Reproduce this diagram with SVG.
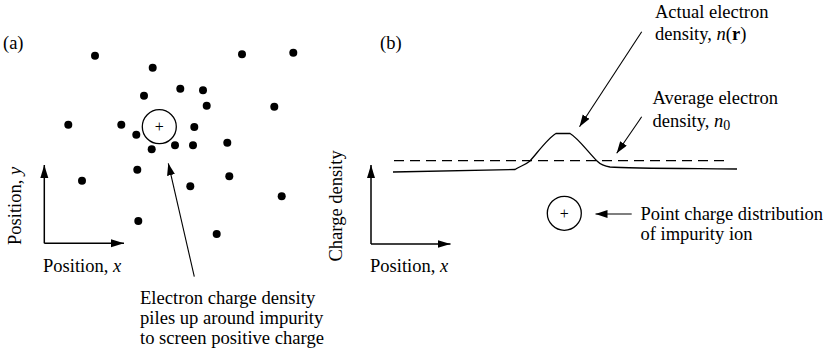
<svg xmlns="http://www.w3.org/2000/svg" width="828" height="351" viewBox="0 0 828 351">
<style>
text{font-family:"Liberation Serif","Times New Roman",serif;font-size:18.5px;fill:#000}
.i{font-style:italic}
.b{font-weight:bold}
.big{font-size:18.6px}
.axis{stroke:#000;stroke-width:1.5;fill:none}
.lead{stroke:#000;stroke-width:1.1;fill:none}
.ion{stroke:#000;stroke-width:1.3;fill:#fff}
.plus{font-size:16px;text-anchor:middle}
.e{fill:#000}
</style>
<defs>
<marker id="ah" markerUnits="userSpaceOnUse" markerWidth="14" markerHeight="9" refX="13" refY="4.5" orient="auto"><path d="M0,0.5 L13,4.5 L0,8.5 Z" fill="#000"/></marker>
<marker id="ahs" markerUnits="userSpaceOnUse" markerWidth="13" markerHeight="9" refX="12" refY="4" orient="auto"><path d="M0,0 L12,4 L0,8 Z" fill="#000"/></marker>
</defs>
<g id="panel-a-label"><text x="3" y="49">(a)</text></g>
<g id="panel-b-label"><text x="380" y="49">(b)</text></g>
<g id="electrons">
<circle class="e" cx="95" cy="55.7" r="4"/>
<circle class="e" cx="152.7" cy="67.7" r="4"/>
<circle class="e" cx="242" cy="54.3" r="4"/>
<circle class="e" cx="293.3" cy="52.7" r="4"/>
<circle class="e" cx="144" cy="95.7" r="4"/>
<circle class="e" cx="180.3" cy="88.7" r="4"/>
<circle class="e" cx="203" cy="90.3" r="4"/>
<circle class="e" cx="206.7" cy="105.7" r="4"/>
<circle class="e" cx="274.3" cy="106.7" r="4"/>
<circle class="e" cx="68.3" cy="124.7" r="4"/>
<circle class="e" cx="121.3" cy="124.7" r="4"/>
<circle class="e" cx="136.3" cy="134.7" r="4"/>
<circle class="e" cx="194.3" cy="127" r="4"/>
<circle class="e" cx="151.7" cy="149.3" r="4"/>
<circle class="e" cx="175" cy="145.3" r="4"/>
<circle class="e" cx="193" cy="145.3" r="4"/>
<circle class="e" cx="227.3" cy="142.7" r="4"/>
<circle class="e" cx="137.3" cy="169.7" r="4"/>
<circle class="e" cx="82" cy="180.7" r="4"/>
<circle class="e" cx="229.3" cy="176.3" r="4"/>
<circle class="e" cx="190.3" cy="186.3" r="4"/>
<circle class="e" cx="281.7" cy="196.3" r="4"/>
<circle class="e" cx="138.3" cy="221" r="4"/>
<circle class="e" cx="216.7" cy="234" r="4"/>
</g>
<g id="impurity-a">
<circle class="ion" cx="159.3" cy="126.7" r="17"/>
<text class="plus" x="159.3" y="132">+</text>
</g>
<g id="impurity-b">
<circle class="ion" cx="564.3" cy="213.3" r="17"/>
<text class="plus" x="564.3" y="219">+</text>
</g>
<g id="axes-a">
<path class="axis" d="M44.3,243.3 L44.3,165" marker-end="url(#ah)"/>
<path class="axis" d="M44.3,243.3 L124,243.3" marker-end="url(#ah)"/>
<text transform="translate(21,245) rotate(-90)">Position, <tspan class="i">y</tspan></text>
<text x="43" y="272">Position, <tspan class="i">x</tspan></text>
</g>
<g id="axes-b">
<path class="axis" d="M371,244 L371,165" marker-end="url(#ah)"/>
<path class="axis" d="M371,244 L450.5,244" marker-end="url(#ah)"/>
<text transform="translate(342,261.5) rotate(-90)">Charge density</text>
<text x="370" y="272">Position, <tspan class="i">x</tspan></text>
</g>
<g id="densities">
<path d="M394,160.7 L730,160.7" stroke="#000" stroke-width="1.2" stroke-dasharray="10,6" fill="none"/>
<path d="M393,172 L515,169.5 C520,166 524,166 530,161 C538,152 548,138 556,133.5 L570,133.5 C578,138 588,152 597,161 C600,164 603,166 610,167 C630,168.5 700,168.5 737,169" stroke="#000" stroke-width="1.3" fill="none"/>
</g>
<g id="connectors">
<path class="lead" d="M194.3,276.7 L168.3,163.3" marker-end="url(#ahs)"/>
<path class="lead" d="M641.7,31.7 L579.5,126.7" marker-end="url(#ahs)"/>
<path class="lead" d="M641.7,116.7 L616.7,153.3" marker-end="url(#ahs)"/>
<path class="lead" d="M631.7,214 L595.5,214" marker-end="url(#ahs)"/>
</g>
<g id="label-screening">
<text class="big" x="140" y="304.3">Electron charge density</text>
<text class="big" x="140" y="324.3">piles up around impurity</text>
<text class="big" x="140" y="344.3">to screen positive charge</text>
</g>
<g id="label-actual">
<text x="655" y="17.5">Actual electron</text>
<text x="655" y="40">density, <tspan class="i">n</tspan>(<tspan class="b">r</tspan>)</text>
</g>
<g id="label-average">
<text x="652.5" y="104">Average electron</text>
<text x="652.5" y="126.5">density, <tspan class="i">n</tspan><tspan font-size="14" dy="3">0</tspan></text>
</g>
<g id="label-point">
<text x="640.5" y="219.5">Point charge distribution</text>
<text x="640.5" y="240">of impurity ion</text>
</g>
</svg>
